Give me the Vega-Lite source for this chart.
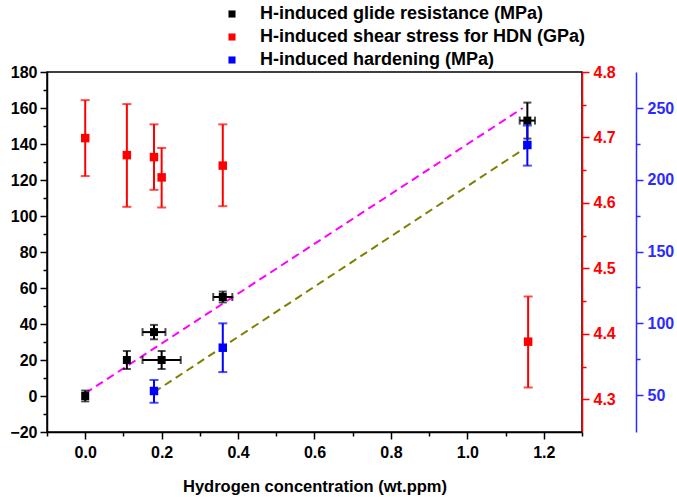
{
  "$schema": "https://vega.github.io/schema/vega-lite/v6.json",
  "autosize": "none",
  "padding": {"left": 47, "top": 72, "right": 95, "bottom": 68},
  "width": 535,
  "height": 360,
  "config": {
    "font": "Liberation Sans",
    "view": {"stroke": "#000000", "strokeWidth": 1.5},
    "axis": {"labelFontWeight": "bold", "labelFontSize": 16, "labelFont": "Liberation Sans", "titleFont": "Liberation Sans", "grid": false, "domainWidth": 1.5, "tickWidth": 1.5, "labelOverlap": false, "labelFlush": false}
  },
  "datasets": {
    "pts": [
      {"series": "H-induced glide resistance (MPa)", "x": 0, "y": 0, "ylo": -3, "yhi": 3},
      {"series": "H-induced glide resistance (MPa)", "x": 0.109, "y": 20, "ylo": 15, "yhi": 25},
      {"series": "H-induced glide resistance (MPa)", "x": 0.18, "y": 35.5, "ylo": 31.5, "yhi": 39.5, "xlo": 0.15, "xhi": 0.21},
      {"series": "H-induced glide resistance (MPa)", "x": 0.2, "y": 20, "ylo": 15, "yhi": 25, "xlo": 0.15, "xhi": 0.25},
      {"series": "H-induced glide resistance (MPa)", "x": 0.36, "y": 55, "ylo": 52, "yhi": 58, "xlo": 0.335, "xhi": 0.385},
      {"series": "H-induced glide resistance (MPa)", "x": 1.157, "y": 153, "ylo": 143, "yhi": 163, "xlo": 1.137, "xhi": 1.177},
      {"series": "H-induced shear stress for HDN (GPa)", "x": 0, "y": 4.699, "ylo": 4.641, "yhi": 4.757},
      {"series": "H-induced shear stress for HDN (GPa)", "x": 0.109, "y": 4.673, "ylo": 4.594, "yhi": 4.751},
      {"series": "H-induced shear stress for HDN (GPa)", "x": 0.18, "y": 4.670, "ylo": 4.620, "yhi": 4.720},
      {"series": "H-induced shear stress for HDN (GPa)", "x": 0.2, "y": 4.639, "ylo": 4.593, "yhi": 4.684},
      {"series": "H-induced shear stress for HDN (GPa)", "x": 0.36, "y": 4.657, "ylo": 4.595, "yhi": 4.720},
      {"series": "H-induced shear stress for HDN (GPa)", "x": 1.159, "y": 4.388, "ylo": 4.318, "yhi": 4.457},
      {"series": "H-induced hardening (MPa)", "x": 0.18, "y": 52.8, "ylo": 44.6, "yhi": 60.5},
      {"series": "H-induced hardening (MPa)", "x": 0.36, "y": 83, "ylo": 66, "yhi": 100},
      {"series": "H-induced hardening (MPa)", "x": 1.157, "y": 224.4, "ylo": 210, "yhi": 238}
    ],
    "fit": [
      {"series": "glide", "x": 0, "y": 1.5},
      {"series": "glide", "x": 1.145, "y": 160},
      {"series": "hardening", "x": 0.18, "y": 52},
      {"series": "hardening", "x": 1.153, "y": 222.5}
    ]
  },
  "data": {"name": "pts"},
  "encoding": {
    "x": {
      "field": "x", "type": "quantitative",
      "scale": {"domain": [-0.1, 1.3], "nice": false, "zero": false},
      "axis": {
        "title": "Hydrogen concentration (wt.ppm)",
        "titleFontSize": 16.5, "titleFontWeight": "bold", "titlePadding": 18,
        "values": [-0.1, 0, 0.1, 0.2, 0.3, 0.4, 0.5, 0.6, 0.7, 0.8, 0.9, 1.0, 1.1, 1.2, 1.3],
        "labelExpr": "round(datum.value*10) % 2 == 0 ? format(datum.value, '.1f') : ''",
        "tickSize": {"condition": {"test": "round(datum.value*10) % 2 == 0", "value": 7}, "value": 4},
        "domainColor": "#000000", "tickColor": "#000000", "labelColor": "#000000", "labelPadding": 5
      }
    }
  },
  "layer": [
    {
      "transform": [{"filter": "datum.series == 'H-induced glide resistance (MPa)'"}],
      "encoding": {
        "y": {
          "field": "y", "type": "quantitative",
          "scale": {"domain": [-20, 180], "nice": false, "zero": false},
          "axis": {
            "orient": "left", "title": null,
            "values": [-20, -10, 0, 10, 20, 30, 40, 50, 60, 70, 80, 90, 100, 110, 120, 130, 140, 150, 160, 170, 180],
            "labelExpr": "datum.value % 20 == 0 ? datum.label : ''",
            "tickSize": {"condition": {"test": "datum.value % 20 == 0", "value": 7}, "value": 4},
            "domainColor": "#000000", "tickColor": "#000000", "labelColor": "#000000", "labelPadding": 3
          }
        }
      },
      "layer": [
        {
          "data": {"name": "fit"},
          "transform": [{"filter": "datum.series == 'glide'"}],
          "mark": {"type": "line", "color": "#ff00ff", "strokeDash": [8, 5], "strokeWidth": 2},
          "encoding": {}
        },
        {
          "mark": {"type": "rule", "color": "#000000", "strokeWidth": 2},
          "encoding": {
            "y": {"field": "ylo", "type": "quantitative", "scale": {"domain": [-20, 180], "nice": false, "zero": false}},
            "y2": {"field": "yhi"}
          }
        },
        {
          "mark": {"type": "tick", "orient": "horizontal", "color": "#000000", "size": 8, "thickness": 2},
          "encoding": {"y": {"field": "ylo", "type": "quantitative", "scale": {"domain": [-20, 180], "nice": false, "zero": false}}}
        },
        {
          "mark": {"type": "tick", "orient": "horizontal", "color": "#000000", "size": 8, "thickness": 2},
          "encoding": {"y": {"field": "yhi", "type": "quantitative", "scale": {"domain": [-20, 180], "nice": false, "zero": false}}}
        },
        {
          "transform": [{"filter": "isValid(datum.xlo)"}],
          "mark": {"type": "rule", "color": "#000000", "strokeWidth": 2},
          "encoding": {
            "x": {"field": "xlo", "type": "quantitative"},
            "x2": {"field": "xhi"}
          }
        },
        {
          "transform": [{"filter": "isValid(datum.xlo)"}],
          "mark": {"type": "tick", "orient": "vertical", "color": "#000000", "size": 8, "thickness": 2},
          "encoding": {"x": {"field": "xlo", "type": "quantitative"}}
        },
        {
          "transform": [{"filter": "isValid(datum.xlo)"}],
          "mark": {"type": "tick", "orient": "vertical", "color": "#000000", "size": 8, "thickness": 2},
          "encoding": {"x": {"field": "xhi", "type": "quantitative"}}
        },
        {
          "mark": {"type": "square", "size": 64, "opacity": 1, "filled": true},
          "encoding": {
            "color": {
              "field": "series", "type": "nominal",
              "scale": {"domain": ["H-induced glide resistance (MPa)", "H-induced shear stress for HDN (GPa)", "H-induced hardening (MPa)"], "range": ["#000000", "#ff0000", "#0000ff"]},
              "legend": {"orient": "none", "legendX": 176, "legendY": -67, "title": null, "labelFontSize": 18, "labelFontWeight": "bold", "labelFont": "Liberation Sans", "labelColor": "#000000", "labelLimit": 0, "symbolType": "square", "symbolSize": 50, "rowPadding": 5, "labelOffset": 19, "symbolStrokeWidth": 0}
            }
          }
        }
      ]
    },
    {
      "transform": [{"filter": "datum.series == 'H-induced shear stress for HDN (GPa)'"}],
      "encoding": {
        "y": {
          "field": "y", "type": "quantitative",
          "scale": {"domain": [4.25, 4.8], "nice": false, "zero": false},
          "axis": {
            "orient": "right", "title": null,
            "values": [4.3, 4.35, 4.4, 4.45, 4.5, 4.55, 4.6, 4.65, 4.7, 4.75, 4.8],
            "labelExpr": "round(datum.value*100) % 10 == 0 ? format(datum.value, '.1f') : ''",
            "tickSize": {"condition": {"test": "round(datum.value*100) % 10 == 0", "value": 7}, "value": 4},
            "domainColor": "#ff0000", "tickColor": "#ff0000", "labelColor": "#ff0000", "labelPadding": 4
          }
        }
      },
      "layer": [
        {
          "mark": {"type": "rule", "color": "#ff0000", "strokeWidth": 2},
          "encoding": {
            "y": {"field": "ylo", "type": "quantitative", "scale": {"domain": [4.25, 4.8], "nice": false, "zero": false}},
            "y2": {"field": "yhi"}
          }
        },
        {
          "mark": {"type": "tick", "orient": "horizontal", "color": "#ff0000", "size": 9, "thickness": 2},
          "encoding": {"y": {"field": "ylo", "type": "quantitative", "scale": {"domain": [4.25, 4.8], "nice": false, "zero": false}}}
        },
        {
          "mark": {"type": "tick", "orient": "horizontal", "color": "#ff0000", "size": 9, "thickness": 2},
          "encoding": {"y": {"field": "yhi", "type": "quantitative", "scale": {"domain": [4.25, 4.8], "nice": false, "zero": false}}}
        },
        {
          "mark": {"type": "square", "size": 72, "opacity": 1, "filled": true},
          "encoding": {"color": {"field": "series", "type": "nominal"}}
        }
      ]
    },
    {
      "transform": [{"filter": "datum.series == 'H-induced hardening (MPa)'"}],
      "encoding": {
        "y": {
          "field": "y", "type": "quantitative",
          "scale": {"domain": [24.2, 275.3], "nice": false, "zero": false},
          "axis": {
            "orient": "right", "offset": 54, "title": null,
            "values": [50, 75, 100, 125, 150, 175, 200, 225, 250],
            "labelExpr": "datum.value % 50 == 0 ? datum.label : ''",
            "tickSize": {"condition": {"test": "datum.value % 50 == 0", "value": 7}, "value": 4},
            "domainColor": "#2b2bff", "tickColor": "#2b2bff", "labelColor": "#2b2bff", "labelPadding": 4
          }
        }
      },
      "layer": [
        {
          "data": {"name": "fit"},
          "transform": [{"filter": "datum.series == 'hardening'"}],
          "mark": {"type": "line", "color": "#808000", "strokeDash": [8, 5], "strokeWidth": 2},
          "encoding": {}
        },
        {
          "mark": {"type": "rule", "color": "#0000ff", "strokeWidth": 2},
          "encoding": {
            "y": {"field": "ylo", "type": "quantitative", "scale": {"domain": [24.2, 275.3], "nice": false, "zero": false}},
            "y2": {"field": "yhi"}
          }
        },
        {
          "mark": {"type": "tick", "orient": "horizontal", "color": "#0000ff", "size": 9, "thickness": 2},
          "encoding": {"y": {"field": "ylo", "type": "quantitative", "scale": {"domain": [24.2, 275.3], "nice": false, "zero": false}}}
        },
        {
          "mark": {"type": "tick", "orient": "horizontal", "color": "#0000ff", "size": 9, "thickness": 2},
          "encoding": {"y": {"field": "yhi", "type": "quantitative", "scale": {"domain": [24.2, 275.3], "nice": false, "zero": false}}}
        },
        {
          "mark": {"type": "square", "size": 72, "opacity": 1, "filled": true},
          "encoding": {"color": {"field": "series", "type": "nominal"}}
        }
      ]
    }
  ],
  "resolve": {"scale": {"y": "independent"}, "axis": {"y": "independent"}}
}
